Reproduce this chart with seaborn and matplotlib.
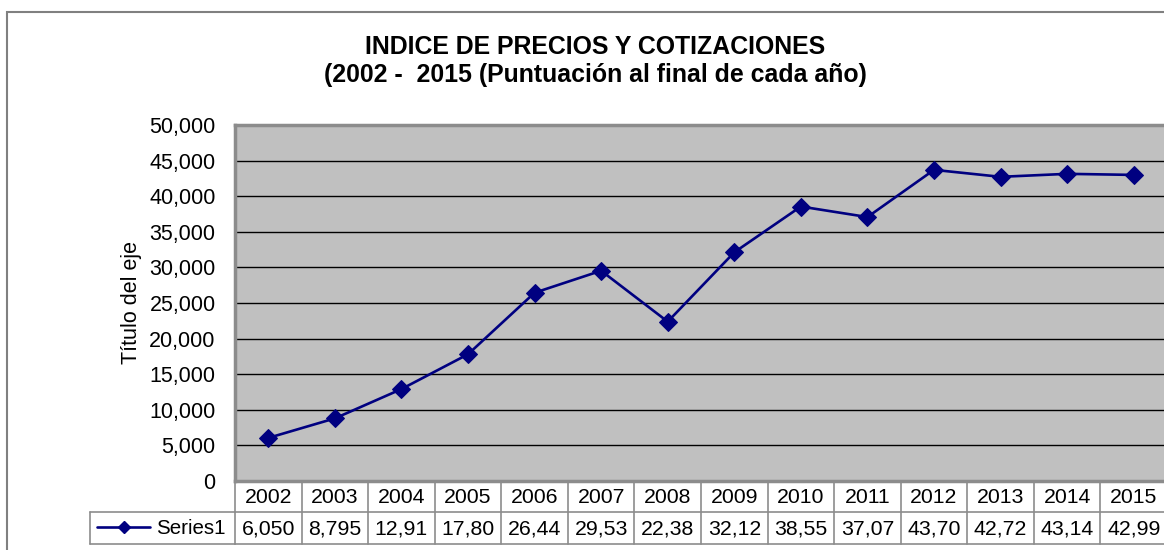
import pandas as pd
import matplotlib
matplotlib.use("Agg")
import matplotlib.pyplot as plt
import matplotlib.transforms as mtransforms
from matplotlib.lines import Line2D
from matplotlib.patches import Rectangle
import seaborn as sns

# ── Data ──────────────────────────────────────────────────
years = ["2002", "2003", "2004", "2005", "2006", "2007", "2008",
         "2009", "2010", "2011", "2012", "2013", "2014", "2015"]
values = [6050, 8795, 12910, 17800, 26440, 29530, 22380,
          32120, 38550, 37070, 43700, 42720, 43140, 42990]
series_name = "Series1"
y_ticks = [0, 5000, 10000, 15000, 20000, 25000, 30000, 35000, 40000, 45000, 50000]
title = "INDICE DE PRECIOS Y COTIZACIONES\n(2002 -  2015 (Puntuación al final de cada año)"
y_label = "Título del eje"

df = pd.DataFrame({"year": years, "value": values})

# ── Style ─────────────────────────────────────────────────
sns.set_theme(style="white")
plt.rcParams["font.family"] = ["Liberation Sans", "DejaVu Sans"]
plt.rcParams["text.color"] = "black"
plt.rcParams["ytick.color"] = "black"

W, H = 1164, 550
fig = plt.figure(figsize=(W / 100, H / 100), dpi=100)

def fx(px):
    return px / W

def fy(py):
    return 1 - py / H

# plot area in pixel coords
left, right, top, bottom = 235, 1167, 125, 481
ax = fig.add_axes([fx(left), fy(bottom), fx(right) - fx(left), fy(top) - fy(bottom)])
ax.set_facecolor("#C0C0C0")

line_color = "#000080"
sns.lineplot(data=df, x="year", y="value", ax=ax, color=line_color,
             marker="D", markersize=9, markeredgecolor=line_color,
             linewidth=1.9, sort=False)

ax.set_xlim(-0.5, len(years) - 0.5)
ax.set_ylim(0, 50000)
ax.set_yticks(y_ticks)
ax.set_yticklabels([f"{t:,}" for t in y_ticks], fontsize=15.5, color="black")
ax.tick_params(axis="y", length=0, pad=14)
ax.set_xticks([])
ax.set_xlabel("")
ax.set_ylabel("")
for t in y_ticks[1:-1]:
    ax.axhline(t, color="black", linewidth=1.0, zorder=1)
for s in ax.spines.values():
    s.set_color("#8C8C8C")
    s.set_linewidth(2.5)

# ── Titles ────────────────────────────────────────────────
fig.text(fx(595), fy(61), title, ha="center", va="center",
         fontsize=17.9, fontweight="bold", linespacing=1.2, color="black")
fig.text(fx(132), fy(302), y_label, ha="center", va="center",
         rotation=90, fontsize=15.5, color="black")

# outer chart border
fig.patches.append(Rectangle((fx(7), fy(600)), fx(1200), fy(12) - fy(600),
                             transform=fig.transFigure, fill=False,
                             edgecolor="#808080", linewidth=1.5))

# ── Data table ────────────────────────────────────────────
tr = mtransforms.blended_transform_factory(ax.transData, fig.transFigure)
grid_c = "#8C8C8C"
row1_top, row_mid, row2_bot = 481, 512, 544
n = len(years)
for i in range(n + 1):
    fig.add_artist(Line2D([i - 0.5, i - 0.5], [fy(row1_top), fy(row2_bot)],
                          transform=tr, color=grid_c, linewidth=1.2))
fig.add_artist(Line2D([-0.5, n - 0.5], [fy(row_mid), fy(row_mid)],
                      transform=tr, color=grid_c, linewidth=1.2))
fig.add_artist(Line2D([-0.5, n - 0.5], [fy(row2_bot), fy(row2_bot)],
                      transform=tr, color=grid_c, linewidth=1.2))
# legend cell
fig.add_artist(Line2D([fx(90), fx(left)], [fy(row_mid), fy(row_mid)],
                      transform=fig.transFigure, color=grid_c, linewidth=1.2))
fig.add_artist(Line2D([fx(90), fx(left)], [fy(row2_bot), fy(row2_bot)],
                      transform=fig.transFigure, color=grid_c, linewidth=1.2))
fig.add_artist(Line2D([fx(90), fx(90)], [fy(row_mid), fy(row2_bot)],
                      transform=fig.transFigure, color=grid_c, linewidth=1.2))
fig.add_artist(Line2D([fx(97), fx(150)], [fy(527), fy(527)],
                      transform=fig.transFigure, color=line_color, linewidth=1.9))
fig.add_artist(Line2D([fx(124)], [fy(527)], transform=fig.transFigure,
                      color=line_color, marker="D", markersize=6, linestyle="none"))
fig.text(fx(226), fy(528), series_name, ha="right", va="center", fontsize=14.8)

for i, (yr, v) in enumerate(zip(years, values)):
    fig.text(i, fy((row1_top + row_mid) / 2 + 1), yr, transform=tr,
             ha="center", va="center", fontsize=15.3)
    fig.text(i, fy((row_mid + row2_bot) / 2 + 1), f"{v:,}"[:5], transform=tr,
             ha="center", va="center", fontsize=15.3)

fig.savefig("out.png", dpi=100)
